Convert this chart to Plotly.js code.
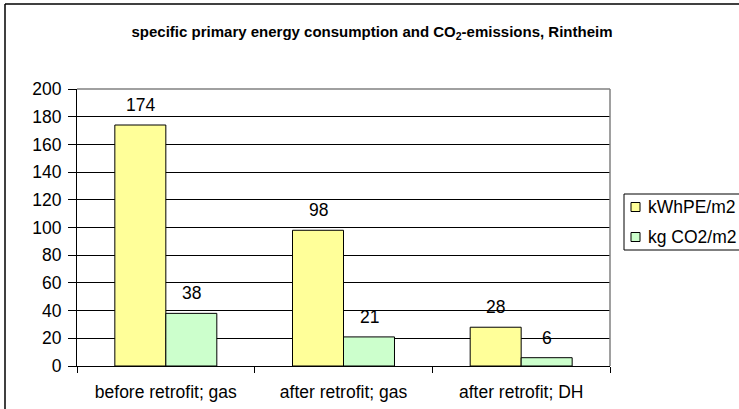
<!DOCTYPE html>
<html>
<head>
<meta charset="utf-8">
<script src="https://cdn.plot.ly/plotly-3.0.1.min.js"></script>
<style>html,body{margin:0;padding:0;background:#fff;}#chart{width:739px;height:409px;}</style>
</head>
<body>
<div id="chart"></div>
<script>
const categories = ['before retrofit; gas', 'after retrofit; gas', 'after retrofit; DH'];
const seriesNames = ['kWhPE/m2', 'kg CO2/m2'];
const primaryEnergy = [174, 98, 28];
const co2Emissions = [38, 21, 6];
const yTicks = [0, 20, 40, 60, 80, 100, 120, 140, 160, 180, 200];
const chartTitle = '<b>specific primary energy consumption and CO<sub>2</sub>-emissions, Rintheim</b>';

const colors = ['#FFFF99', '#CCFFCC'];
const FONT = 'Liberation Sans, Arial, sans-serif';
const FS = 17.5;
const W = 739, H = 409;
const L = 77, R = 610, T = 89, B = 366;
const px = x => (x - L) / (R - L);
const py = y => (B - y) / (B - T);

const seriesValues = [primaryEnergy, co2Emissions];
const traces = seriesValues.map((vals, i) => ({
  type: 'bar',
  name: seriesNames[i],
  x: categories,
  y: vals,
  marker: {color: colors[i], line: {color: '#000', width: 1}},
  showlegend: false,
  hoverinfo: 'none'
}));

const annotations = [];
seriesValues.forEach((vals, i) => {
  vals.forEach((v, j) => {
    annotations.push({
      x: categories[j], y: v, xref: 'x', yref: 'y',
      text: String(v), showarrow: false,
      xshift: i === 0 ? -25.5 : 25.5, yshift: 20,
      xanchor: 'center', yanchor: 'middle',
      font: {family: FONT, size: FS, color: '#000'}
    });
  });
});
// legend texts
const legendY = [207, 237];
seriesNames.forEach((n, i) => {
  annotations.push({
    x: px(646), y: py(legendY[i]), xref: 'paper', yref: 'paper',
    text: n, showarrow: false, xanchor: 'left', yanchor: 'middle',
    font: {family: FONT, size: FS, color: '#000'}
  });
});

const shapes = [
  {type: 'line', xref: 'paper', yref: 'paper', x0: px(5), x1: px(5), y0: py(4), y1: py(420), line: {color: '#000', width: 1.5}},
  {type: 'line', xref: 'paper', yref: 'paper', x0: px(5), x1: px(750), y0: py(4), y1: py(4), line: {color: '#000', width: 1.5}},
  {type: 'line', xref: 'paper', yref: 'paper', x0: 0, x1: 1, y0: 1, y1: 1, line: {color: '#808080', width: 1.5}},
  {type: 'line', xref: 'paper', yref: 'paper', x0: 1, x1: 1, y0: 0, y1: 1, line: {color: '#808080', width: 1.5}},
  {type: 'rect', xref: 'paper', yref: 'paper', x0: px(624), x1: px(760), y0: py(250), y1: py(194), line: {color: '#000', width: 1}, fillcolor: 'rgba(0,0,0,0)'}
];
legendY.forEach((y, i) => {
  shapes.push({type: 'rect', xref: 'paper', yref: 'paper', x0: px(631), x1: px(640), y0: py(y + 4.5), y1: py(y - 4.5), line: {color: '#000', width: 1}, fillcolor: colors[i]});
});

const layout = {
  width: W, height: H,
  margin: {l: L, r: W - R, t: T, b: H - B, pad: 0},
  paper_bgcolor: '#fff', plot_bgcolor: '#fff',
  title: {text: chartTitle, x: 372 / W, xref: 'container', xanchor: 'center', y: 1 - 32 / H, yref: 'container', yanchor: 'middle',
    font: {family: FONT, size: 15, color: '#000'}},
  barmode: 'group', bargap: 0.426, bargroupgap: 0,
  font: {family: FONT, size: FS, color: '#000'},
  xaxis: {type: 'category', showline: true, linecolor: '#000', linewidth: 1, ticks: 'outside', tickson: 'boundaries', ticklen: 6, tickcolor: '#000',
    ticklabelstandoff: 10, showgrid: false, automargin: false, tickfont: {family: FONT, size: FS, color: '#000'}, fixedrange: true},
  yaxis: {range: [0, 200], tickvals: yTicks, ticktext: yTicks.map(String), showline: true, linecolor: '#000', linewidth: 1, ticks: 'outside', ticklen: 8, tickcolor: '#000',
    ticklabelstandoff: 3, showgrid: true, gridcolor: '#000', gridwidth: 1, zeroline: false, automargin: false,
    tickfont: {family: FONT, size: FS, color: '#000'}, fixedrange: true},
  showlegend: false,
  annotations: annotations,
  shapes: shapes
};

Plotly.newPlot('chart', traces, layout, {displayModeBar: false, staticPlot: true});
</script>
</body>
</html>
